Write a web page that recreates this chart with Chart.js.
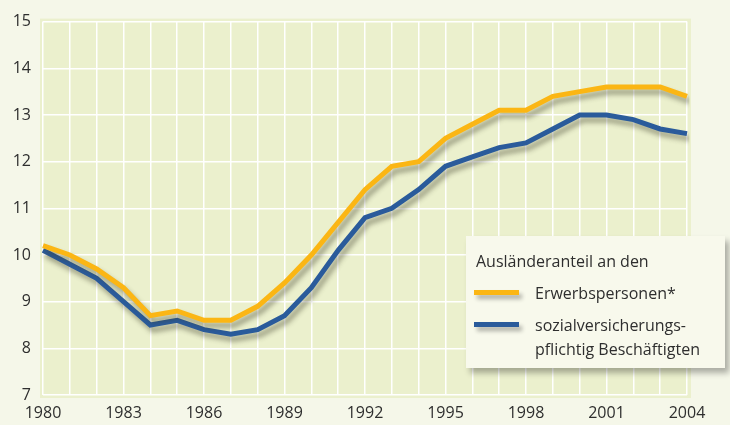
<!DOCTYPE html>
<html>
<head>
<meta charset="utf-8">
<script src="https://cdn.jsdelivr.net/npm/chart.js@4"></script>
<style>
  body { margin: 0; background: #f5f7e9; }
  #wrap { position: relative; width: 730px; height: 425px; }
  #legend {
    position: absolute; left: 466px; top: 236px; width: 259px; height: 132px;
    background: #f8f9ec; box-shadow: 4px 5px 6px rgba(0,0,0,0.3);
    font-family: "Open Sans", sans-serif; font-size: 16px; color: #2e2e2e;
  }
  #legend .t { position: absolute; left: 10px; top: 14px; }
  #legend .sw { position: absolute; left: 8px; width: 45px; height: 5px; box-shadow: 3px 4px 4px rgba(0,0,0,0.3); }
  #legend .lb { position: absolute; left: 69px; line-height: 24px; }
</style>
</head>
<body>
<div id="wrap">
  <canvas id="myChart" width="730" height="425"></canvas>
  <div id="legend">
    <div class="t">Ausländeranteil an den</div>
    <div class="sw" style="top:54px;background:#fbb614"></div>
    <div class="lb" style="top:45px">Erwerbspersonen*</div>
    <div class="sw" style="top:86px;background:#2a5b9b"></div>
    <div class="lb" style="top:77px">sozialversicherungs-<br>pflichtig Beschäftigten</div>
  </div>
</div>
<script>
// years and values
const years = [];
for (let y = 1980; y <= 2004; y++) years.push(y);

const erwerbspersonen = [10.2, 10.0, 9.7, 9.3, 8.7, 8.8, 8.6, 8.6, 8.9, 9.4, 10.0, 10.7, 11.4, 11.9, 12.0, 12.5, 12.8, 13.1, 13.1, 13.4, 13.5, 13.6, 13.6, 13.6, 13.4];
const beschaeftigte = [10.1, 9.8, 9.5, 9.0, 8.5, 8.6, 8.4, 8.3, 8.4, 8.7, 9.3, 10.1, 10.8, 11.0, 11.4, 11.9, 12.1, 12.3, 12.4, 12.7, 13.0, 13.0, 12.9, 12.7, 12.6];

const ctx = document.getElementById("myChart");

// light green plot background, a bit larger than the grid
const plotBg = {
  id: "plotBg",
  beforeDraw(chart) {
    const a = chart.chartArea;
    const c = chart.ctx;
    c.save();
    c.fillStyle = "#ebf0cd";
    c.fillRect(a.left - 3, a.top - 3, a.right - a.left + 7, a.bottom - a.top + 6);
    c.restore();
  }
};

// soft drop shadow under the lines
const lineShadow = {
  id: "lineShadow",
  beforeDatasetDraw(chart) {
    const c = chart.ctx;
    c.save();
    c.shadowColor = "rgba(60,60,40,0.45)";
    c.shadowBlur = 5;
    c.shadowOffsetX = 3;
    c.shadowOffsetY = 5;
  },
  afterDatasetDraw(chart) {
    chart.ctx.restore();
  }
};

new Chart(ctx, {
  type: "line",
  data: {
    labels: years,
    datasets: [
      {
        label: "Erwerbspersonen*",
        data: erwerbspersonen,
        borderColor: "#fbb614",
        borderWidth: 5,
        pointRadius: 0,
        tension: 0
      },
      {
        label: "sozialversicherungspflichtig Beschäftigten",
        data: beschaeftigte,
        borderColor: "#2a5b9b",
        borderWidth: 5,
        pointRadius: 0,
        tension: 0
      }
    ]
  },
  options: {
    responsive: false,
    animation: false,
    layout: { padding: { top: 17, right: 43, left: 0, bottom: 0 } },
    scales: {
      x: {
        afterFit: (s) => { s.height = 30; },
        border: { display: false },
        grid: { color: "#ffffff", lineWidth: 1.5, drawTicks: false },
        ticks: {
          autoSkip: false,
          maxRotation: 0,
          padding: 9,
          color: "#2e2e2e",
          font: { family: "Open Sans", size: 16 },
          callback: function (v, i) { return (years[i] - 1980) % 3 === 0 ? years[i] : ""; }
        }
      },
      y: {
        min: 7,
        max: 15,
        afterFit: (s) => { s.width = 43; },
        border: { display: false },
        grid: { color: "#ffffff", lineWidth: 1.5, drawTicks: false },
        ticks: {
          stepSize: 1,
          padding: 12,
          color: "#2e2e2e",
          font: { family: "Open Sans", size: 16 }
        }
      }
    },
    plugins: {
      legend: { display: false },
      tooltip: { enabled: false }
    }
  },
  plugins: [plotBg, lineShadow]
});
</script>
</body>
</html>
